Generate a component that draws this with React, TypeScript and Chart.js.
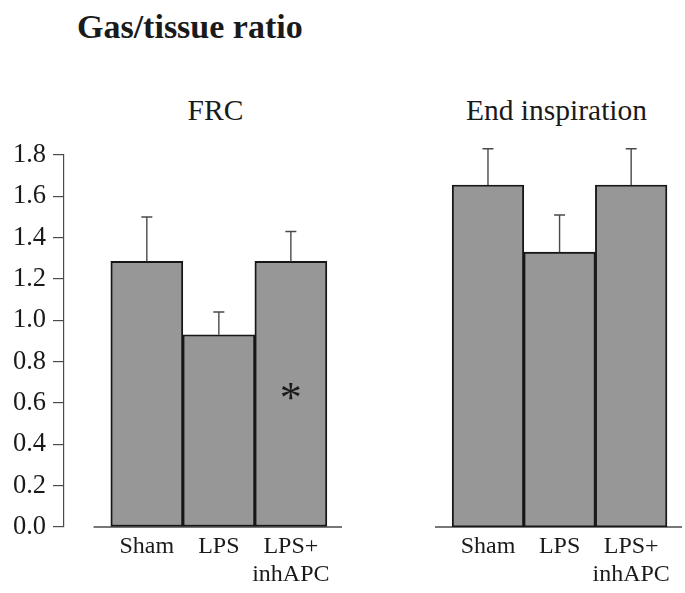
import React, { useEffect, useRef } from 'react';
import { Chart, registerables } from 'chart.js';

Chart.register(...registerables);

// ---------- data ----------
const categories: (string | string[])[] = ['Sham', 'LPS', ['LPS+', 'inhAPC']];
const frcMeans = [1.285, 0.93, 1.285];
const frcUpper = [1.5, 1.04, 1.43];
const endInspMeans = [1.655, 1.33, 1.655];
const endInspUpper = [1.83, 1.51, 1.83];
const yMin = 0;
const yMax = 1.8;
const yStep = 0.2;
const asteriskIndex = 2;
const asteriskValue = 0.65;

// ---------- style / layout ----------
const FONT = "'Liberation Serif', 'DejaVu Serif', serif";
const TEXT = '#1a1a1a';
const BAR_FILL = '#979797';
const BAR_EDGE = '#161616';
const AXIS = '#4a4a4a';
const X_MIN_AXIS = -1.15;
const X_MIN_PLAIN = -0.74;
const X_MAX = 2.71;
const BASELINE_FROM = -0.74;

const baselinePlugin = {
  id: 'baseline',
  beforeDatasetsDraw(chart: any) {
    const { ctx, scales, chartArea } = chart;
    const y = scales.y.getPixelForValue(0);
    const x0 = scales.x.getPixelForValue(BASELINE_FROM);
    ctx.save();
    ctx.strokeStyle = AXIS;
    ctx.lineWidth = 1.5;
    ctx.beginPath();
    ctx.moveTo(x0, y);
    ctx.lineTo(chartArea.right, y);
    ctx.stroke();
    ctx.restore();
  },
};

const errorBarPlugin = {
  id: 'errorBars',
  afterDatasetsDraw(chart: any, _args: any, opts: any) {
    const { ctx, scales } = chart;
    const meta = chart.getDatasetMeta(0);
    const upper: number[] = opts.upper || [];
    ctx.save();
    ctx.strokeStyle = AXIS;
    ctx.lineWidth = 1.4;
    meta.data.forEach((bar: any, i: number) => {
      if (upper[i] == null) return;
      const yTop = scales.y.getPixelForValue(upper[i]);
      const yBar = bar.y;
      ctx.beginPath();
      ctx.moveTo(bar.x, yBar);
      ctx.lineTo(bar.x, yTop);
      ctx.moveTo(bar.x - 5.5, yTop);
      ctx.lineTo(bar.x + 5.5, yTop);
      ctx.stroke();
    });
    ctx.restore();
  },
};

const asteriskPlugin = {
  id: 'asterisk',
  afterDatasetsDraw(chart: any, _args: any, opts: any) {
    if (!opts || !opts.show) return;
    const { ctx, scales } = chart;
    const size = 44;
    const x = scales.x.getPixelForValue(opts.index);
    const y = scales.y.getPixelForValue(opts.value);
    ctx.save();
    ctx.fillStyle = TEXT;
    ctx.font = `${size}px ${FONT}`;
    ctx.textAlign = 'center';
    ctx.textBaseline = 'alphabetic';
    ctx.fillText('*', x, y + size * 0.44);
    ctx.restore();
  },
};

function makeConfig(means: number[], upper: number[], showY: boolean, padLeft: number, showAsterisk: boolean): any {
  return {
    type: 'bar',
    data: {
      datasets: [
        {
          data: means.map((v, i) => ({ x: i, y: v })),
          backgroundColor: BAR_FILL,
          borderColor: BAR_EDGE,
          borderWidth: 1.9,
          borderSkipped: false,
          barPercentage: 1,
          categoryPercentage: 1,
        },
      ],
    },
    options: {
      animation: false,
      responsive: false,
      events: [],
      font: { family: FONT },
      layout: { padding: { top: 155, left: padLeft, right: 3, bottom: 0 } },
      plugins: {
        legend: { display: false },
        tooltip: { enabled: false },
        errorBars: { upper },
        asterisk: { show: showAsterisk, index: asteriskIndex, value: asteriskValue },
      },
      scales: {
        x: {
          type: 'linear',
          offset: false,
          min: showY ? X_MIN_AXIS : X_MIN_PLAIN,
          max: X_MAX,
          afterBuildTicks: (s: any) => {
            s.ticks = categories.map((_, i) => ({ value: i }));
          },
          afterFit: (s: any) => {
            s.height = 66;
          },
          grid: { display: false, drawTicks: false, offset: false },
          border: { display: false },
          ticks: {
            callback: (v: any) => categories[Math.round(Number(v))],
            padding: 6,
            color: TEXT,
            font: { family: FONT, size: 24, lineHeight: 1.17 },
            maxRotation: 0,
            minRotation: 0,
            autoSkip: false,
          },
        },
        y: {
          display: showY,
          min: yMin,
          max: yMax,
          afterFit: (s: any) => {
            s.width = showY ? 64 : 0;
          },
          ticks: {
            stepSize: yStep,
            callback: (v: any) => Number(v).toFixed(1),
            padding: 7,
            color: TEXT,
            font: { family: FONT, size: 26.5 },
          },
          grid: { drawOnChartArea: false, drawTicks: true, tickLength: 11, color: AXIS, lineWidth: 1.2 },
          border: { display: true, color: AXIS, width: 1.2 },
        },
      },
    },
    plugins: [baselinePlugin, errorBarPlugin, asteriskPlugin],
  };
}

export default function App() {
  const leftRef = useRef<HTMLCanvasElement>(null);
  const rightRef = useRef<HTMLCanvasElement>(null);

  useEffect(() => {
    const left = new Chart(leftRef.current as HTMLCanvasElement, makeConfig(frcMeans, frcUpper, true, 0, true));
    const right = new Chart(rightRef.current as HTMLCanvasElement, makeConfig(endInspMeans, endInspUpper, false, 90, false));
    return () => {
      left.destroy();
      right.destroy();
    };
  }, []);

  const textBase: React.CSSProperties = {
    position: 'absolute',
    fontFamily: FONT,
    color: TEXT,
    lineHeight: 1,
    whiteSpace: 'nowrap',
    margin: 0,
  };

  return (
    <div style={{ position: 'absolute', left: 0, top: 0, width: 685, height: 593, background: '#fff', overflow: 'hidden' }}>
      <div style={{ ...textBase, left: 77, top: 9.5, fontSize: 34, fontWeight: 'bold' }}>Gas/tissue ratio</div>
      <div style={{ ...textBase, left: 215.5, top: 96, fontSize: 29.5, transform: 'translateX(-50%)' }}>FRC</div>
      <div style={{ ...textBase, left: 556.5, top: 95.5, fontSize: 29.5, transform: 'translateX(-50%)' }}>End inspiration</div>
      <canvas ref={leftRef} width={345} height={593} style={{ position: 'absolute', left: 0, top: 0, width: 345, height: 593 }} />
      <canvas ref={rightRef} width={340} height={593} style={{ position: 'absolute', left: 345, top: 0, width: 340, height: 593 }} />
    </div>
  );
}
